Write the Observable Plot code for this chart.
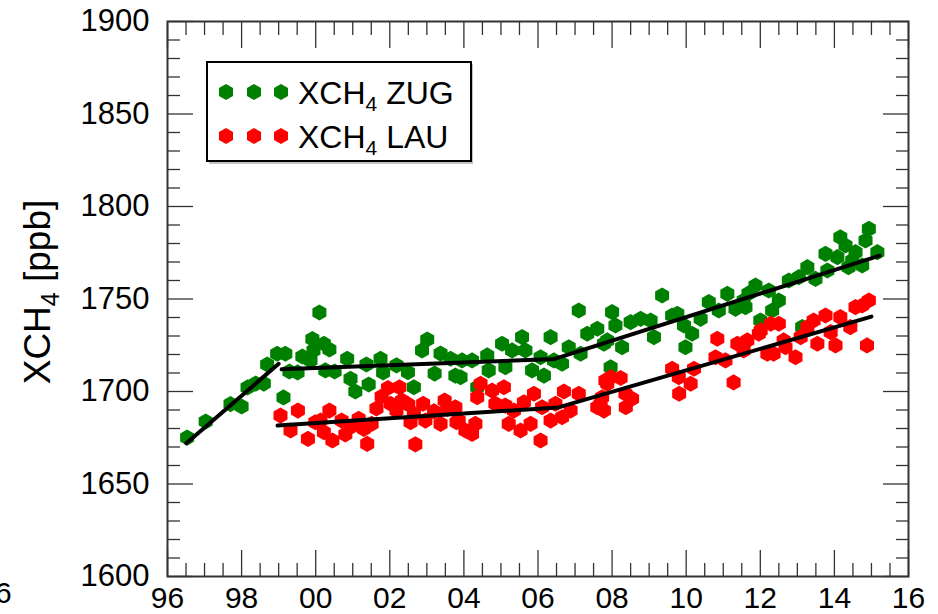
<!DOCTYPE html>
<html>
<head>
<meta charset="utf-8">
<script src="https://cdn.jsdelivr.net/npm/d3@7"></script>
<script src="https://cdn.jsdelivr.net/npm/@observablehq/plot@0.6"></script>
<style>
  body { margin: 0; background: #fff; }
  #wrap { position: relative; width: 938px; height: 614px; overflow: hidden; background: #fff;
          font-family: "Liberation Sans", Arial, Helvetica, sans-serif; }
  #legend { position: absolute; left: 205px; top: 60px; }
  #cut { position: absolute; left: -5px; top: 578px; font-size: 30px; line-height: 30px; color: #000; }
</style>
</head>
<body>
<div id="wrap"><div id="cut">6</div></div>
<script>
// ---------------- data ----------------
const zugYear = [1996.53,1997.03,1997.70,1998.00,1998.16,1998.38,1998.60,1998.69,1998.96,1999.13,1999.18,1999.29,1999.51,1999.64,1999.86,1999.91,1999.94,2000.10,2000.22,2000.26,2000.37,2000.51,2000.85,2000.94,2001.07,2001.37,2001.43,2001.75,2001.82,2002.18,2002.49,2002.65,2002.87,2003.01,2003.21,2003.37,2003.64,2003.77,2003.91,2003.95,2004.22,2004.36,2004.63,2004.67,2005.03,2005.12,2005.30,2005.57,2005.66,2005.84,2006.07,2006.16,2006.34,2006.43,2006.65,2006.83,2007.10,2007.15,2007.33,2007.60,2007.78,2007.87,2007.96,2008.00,2008.09,2008.27,2008.50,2008.77,2009.04,2009.13,2009.35,2009.62,2009.76,2009.94,2009.98,2010.16,2010.39,2010.61,2010.88,2011.11,2011.33,2011.55,2011.60,2011.68,2011.87,2012.00,2012.23,2012.32,2012.50,2012.77,2013.04,2013.13,2013.27,2013.49,2013.76,2013.81,2014.08,2014.16,2014.30,2014.38,2014.48,2014.57,2014.75,2014.84,2014.93,2015.16];
const zugValue = [1675.1,1683.8,1693.2,1691.9,1702.2,1704.3,1704.3,1714.6,1720.4,1696.8,1720.4,1710.8,1710.3,1718.9,1716.8,1728.4,1722.2,1742.7,1725.8,1711.4,1722.7,1710.8,1717.7,1706.9,1700.0,1714.6,1703.8,1717.7,1710.3,1714.1,1710.4,1702.3,1722.2,1728.1,1709.7,1720.5,1717.7,1708.6,1707.7,1716.8,1716.8,1702.3,1719.5,1711.4,1725.8,1713.1,1722.2,1729.4,1722.2,1711.4,1718.5,1708.6,1729.4,1716.8,1715.0,1723.9,1743.8,1720.4,1731.2,1733.9,1725.8,1727.6,1713.1,1742.9,1735.7,1723.9,1737.5,1739.3,1738.4,1729.4,1751.9,1741.1,1742.0,1735.7,1723.9,1731.2,1739.3,1748.3,1743.8,1752.8,1744.7,1749.2,1745.6,1753.0,1757.3,1738.4,1754.6,1743.8,1749.2,1760.0,1761.8,1734.8,1767.2,1760.9,1774.4,1765.4,1772.6,1783.4,1778.9,1767.2,1770.8,1775.3,1768.1,1781.6,1787.9,1775.3];

const lauYear = [1999.05,1999.32,1999.52,1999.79,1999.99,2000.13,2000.22,2000.37,2000.45,2000.70,2000.80,2000.97,2001.16,2001.30,2001.39,2001.51,2001.64,2001.78,2001.95,2002.02,2002.18,2002.26,2002.33,2002.50,2002.56,2002.65,2002.69,2002.90,2002.96,2003.19,2003.37,2003.48,2003.55,2003.77,2003.80,2003.86,2004.04,2004.22,2004.31,2004.36,2004.45,2004.76,2004.85,2005.08,2005.12,2005.21,2005.35,2005.53,2005.62,2005.80,2005.89,2006.07,2006.11,2006.34,2006.47,2006.65,2006.70,2006.88,2007.10,2007.60,2007.69,2007.73,2007.78,2007.82,2007.87,2007.96,2008.23,2008.36,2008.37,2008.54,2009.62,2009.80,2009.81,2010.12,2010.21,2010.79,2010.84,2011.06,2011.28,2011.38,2011.55,2011.65,2011.96,2012.01,2012.19,2012.28,2012.36,2012.50,2012.63,2012.68,2012.95,2013.09,2013.27,2013.44,2013.54,2013.76,2013.90,2014.03,2014.16,2014.43,2014.57,2014.75,2014.88,2014.93];
const lauValue = [1687.0,1678.9,1689.7,1674.4,1683.4,1684.3,1678.0,1689.7,1673.5,1684.3,1676.8,1681.1,1685.2,1679.8,1671.7,1682.5,1690.8,1697.3,1701.9,1693.4,1689.7,1702.3,1695.1,1693.0,1683.4,1687.9,1671.4,1693.4,1684.3,1689.3,1682.5,1695.1,1690.6,1691.5,1683.4,1684.3,1678.9,1677.1,1682.5,1696.9,1704.2,1700.5,1693.4,1702.3,1692.4,1682.5,1689.7,1678.9,1694.2,1682.5,1698.8,1673.5,1691.5,1684.3,1693.4,1686.1,1700.0,1689.7,1698.8,1691.5,1693.4,1696.9,1689.7,1705.9,1704.2,1707.7,1707.3,1698.8,1691.5,1696.1,1712.3,1707.7,1698.8,1704.2,1712.3,1718.5,1728.5,1716.8,1704.9,1725.8,1722.2,1727.6,1731.2,1733.0,1720.4,1736.6,1720.4,1736.6,1727.6,1723.9,1718.5,1729.4,1734.8,1738.4,1725.8,1741.1,1732.1,1724.9,1740.2,1734.8,1745.6,1746.5,1724.9,1749.2];

// piecewise linear trend lines (segment id groups the vertices)
const trendSegment = ["zugA","zugA","zugB","zugB","zugB","lau","lau","lau"];
const trendYear    = [1996.51,1999.00,1999.08,2006.45,2015.22,1998.97,2006.55,2015.00];
const trendValue   = [1672.0,1715.0,1712.0,1717.6,1773.4,1681.6,1691.4,1740.5];

// axis ticks and labels
const xTickYears  = [1996,1998,2000,2002,2004,2006,2008,2010,2012,2014,2016];
const xTickLabels = ["96","98","00","02","04","06","08","10","12","14","16"];
const yTickValues = [1600,1650,1700,1750,1800,1850,1900];
const yTickLabels = ["1600","1650","1700","1750","1800","1850","1900"];

const seriesNames  = ["ZUG","LAU"];
const seriesColors = ["#008000","#ff0000"];

// ---------------- build ----------------
const zug = zugYear.map((d, i) => ({year: d, value: zugValue[i]}));
const lau = lauYear.map((d, i) => ({year: d, value: lauValue[i]}));
const trend = trendYear.map((d, i) => ({year: d, value: trendValue[i], seg: trendSegment[i]}));

const xMinor = d3.range(1996, 2016.001, 0.5).filter(d => !xTickYears.includes(d));
const yMinor = d3.range(1600, 1900.001, 10).filter(d => !yTickValues.includes(d));

const MAJ = 26, MIN = 13, tickColor = "#333";
const font = '"Liberation Sans", Arial, Helvetica, sans-serif';
const R = 7;

const plot = Plot.plot({
  width: 938,
  height: 614,
  marginLeft: 167,
  marginRight: 30,
  marginTop: 21,
  marginBottom: 38,
  x: {domain: [1996, 2016], label: null},
  y: {domain: [1600, 1900], label: null},
  style: {fontFamily: font, fontSize: "30px", color: "#000", background: "white"},
  marks: [
    Plot.dot(zug, {x: "year", y: "value", symbol: "hexagon", r: R, fill: seriesColors[0]}),
    Plot.dot(lau, {x: "year", y: "value", symbol: "hexagon", r: R, fill: seriesColors[1]}),
    Plot.line(trend, {x: "year", y: "value", z: "seg", stroke: "#000", strokeWidth: 4}),
    // inward ticks on all four sides
    Plot.axisX(xTickYears, {anchor: "bottom", tickSize: MAJ, dy: -MAJ, tickFormat: () => "", stroke: tickColor, strokeWidth: 1.3}),
    Plot.axisX(xMinor,     {anchor: "bottom", tickSize: MIN, dy: -MIN, tickFormat: () => "", stroke: tickColor, strokeWidth: 1.3}),
    Plot.axisX(xTickYears, {anchor: "top",    tickSize: MAJ, dy:  MAJ, tickFormat: () => "", stroke: tickColor, strokeWidth: 1.3}),
    Plot.axisX(xMinor,     {anchor: "top",    tickSize: MIN, dy:  MIN, tickFormat: () => "", stroke: tickColor, strokeWidth: 1.3}),
    Plot.axisY(yTickValues,{anchor: "left",   tickSize: MAJ, dx:  MAJ, tickFormat: () => "", stroke: tickColor, strokeWidth: 1.3}),
    Plot.axisY(yMinor,     {anchor: "left",   tickSize: MIN, dx:  MIN, tickFormat: () => "", stroke: tickColor, strokeWidth: 1.3}),
    Plot.axisY(yTickValues,{anchor: "right",  tickSize: MAJ, dx: -MAJ, tickFormat: () => "", stroke: tickColor, strokeWidth: 1.3}),
    Plot.axisY(yMinor,     {anchor: "right",  tickSize: MIN, dx: -MIN, tickFormat: () => "", stroke: tickColor, strokeWidth: 1.3}),
    // tick labels
    Plot.axisX(xTickYears, {anchor: "bottom", tickSize: 0, tickPadding: 10, fontSize: 30,
      tickFormat: d => xTickLabels[xTickYears.indexOf(d)]}),
    Plot.axisY(yTickValues, {anchor: "left", tickSize: 0, tickPadding: 18, fontSize: 31,
      tickFormat: d => yTickLabels[yTickValues.indexOf(d)]}),
    Plot.frame({stroke: "#333", strokeWidth: 2})
  ]
});

document.getElementById("wrap").appendChild(plot);

// y-axis title with subscript
const svg = d3.select(plot);
const yTitle = svg.append("text")
  .attr("transform", "translate(50,292) rotate(-90)")
  .attr("text-anchor", "middle")
  .attr("font-family", font)
  .attr("font-size", 37)
  .attr("fill", "#000");
yTitle.append("tspan").text("XCH");
yTitle.append("tspan").attr("font-size", 25).attr("dy", 9).text("4");
yTitle.append("tspan").attr("dy", -9).text(" [ppb]");

// legend
const lw = 272, lh = 108;
const leg = d3.select("#wrap").append("svg")
  .attr("id", "legend").attr("width", lw).attr("height", lh);
leg.append("rect").attr("x", 4).attr("y", 4).attr("width", lw - 8).attr("height", lh - 8)
  .attr("fill", "#999").attr("opacity", 0.6);
leg.append("rect").attr("x", 2).attr("y", 2).attr("width", lw - 8).attr("height", lh - 9)
  .attr("fill", "#fff").attr("stroke", "#000").attr("stroke-width", 2);
const hex = (r) => {
  const ry = r * Math.sqrt(4 / 3), hy = ry / 2;
  return `M0,${-ry}L${r},${-hy}L${r},${hy}L0,${ry}L${-r},${hy}L${-r},${-hy}Z`;
};
seriesNames.forEach((name, i) => {
  const cy = 32 + i * 44;
  [21, 49, 76].forEach(cx => {
    leg.append("path").attr("d", hex(R)).attr("transform", `translate(${cx},${cy})`)
      .attr("fill", seriesColors[i]);
  });
  const t = leg.append("text").attr("x", 93).attr("y", cy + 12)
    .attr("font-family", font).attr("font-size", 32).attr("fill", "#000");
  t.append("tspan").text("XCH");
  t.append("tspan").attr("font-size", 21).attr("dy", 7).text("4");
  t.append("tspan").attr("dy", -7).text(" " + name);
});
</script>
</body>
</html>
